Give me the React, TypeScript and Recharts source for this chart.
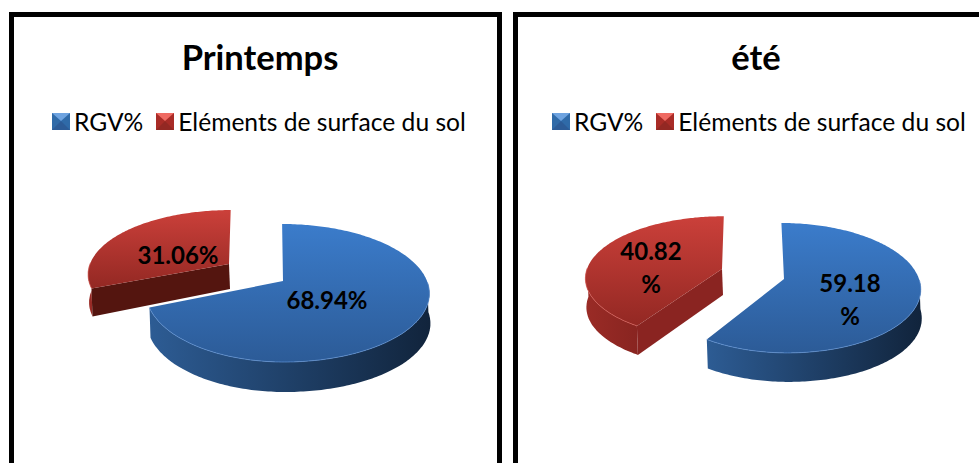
import { Legend, Pie, PieChart } from "recharts"

const names = ["RGV%", "Eléments de surface du sol"]
const printempsValues = [68.94, 31.06]
const eteValues = [59.18, 40.82]

const blue = { id: "b", light: "#3b7ccb", dark: "#2c5b97", wallA: "#2d5c94", wallB: "#11243c", cut: "#1b3658", rim: "#5f93d6", iconTop: "#6ea3e0", iconSide: "#2f6aa8" }
const red = { id: "r", light: "#cb403a", dark: "#932823", wallA: "#9a2b26", wallB: "#6c1a17", cut: "#8a2421", rim: "#d9605a", iconTop: "#ef6a62", iconSide: "#a92c27" }
const palette = [blue, red]

// how each slice is foreshortened: k = perspective, s = height, left/right = half widths
type Geo = { dx: number; dy: number; k: number; s: number; left: number; right: number; lean: number; depth: number; cut?: string; labelX: number; labelY: number; wrap?: boolean }

const printempsGeo: Geo[] = [
  { dx: 0, dy: 0, k: 0.174, s: 66.9, left: 135, right: 144, lean: -1, depth: 30, labelX: 327, labelY: 301 },
  { dx: -54, dy: -17, k: 0.15, s: 62, left: 139, right: 139, lean: 2, depth: 28, cut: "#54150f", labelX: 178, labelY: 256 },
]
const eteGeo: Geo[] = [
  { dx: 0, dy: 0, k: 0.138, s: 63.7, left: 130, right: 135, lean: -3, depth: 29, labelX: 345, labelY: 284, wrap: true },
  { dx: -62, dy: -10, k: 0.138, s: 60, left: 135, right: 135, lean: 2, depth: 29, labelX: 146, labelY: 252, wrap: true },
]

const font = "Lato, Carlito, sans-serif"

function project(g: Geo, cx: number, cy: number, deg: number) {
  // deg is the library's angle: 90 is up, going clockwise as it falls
  const rad = (deg * Math.PI) / 180
  const u = Math.cos(rad)
  const v = Math.sin(rad)
  const w = 1 + g.k * v
  const half = u < 0 ? g.left : g.right
  return { x: cx + g.dx + (half * u) / w + (g.lean * v) / w, y: cy + g.dy - (g.s * v) / w }
}

const toPath = (pts: { x: number; y: number }[]) =>
  pts.map((p, i) => `${i ? "L" : "M"}${p.x.toFixed(1)} ${p.y.toFixed(1)}`).join(" ")

function makeShape(geo: Geo[], prefix: string) {
  return function SliceShape(props: any) {
    const { cx, cy, startAngle, endAngle, name } = props
    const idx = names.indexOf(name)
    const g = geo[idx]
    const c = palette[idx]
    const hi = Math.max(startAngle, endAngle)
    const lo = Math.min(startAngle, endAngle)
    const arc: { x: number; y: number }[] = []
    for (let a = hi; a >= lo; a -= 1) arc.push(project(g, cx, cy, a))
    arc.push(project(g, cx, cy, lo))
    const apex = { x: cx + g.dx, y: cy + g.dy }
    const down = (p: { x: number; y: number }, extra = g.depth) => ({ x: p.x + 1, y: p.y + extra })

    const front = [] as { x: number; y: number }[]
    for (let a = hi; a >= lo; a -= 1) {
      const norm = ((a % 360) + 360) % 360
      if (norm >= 178 && norm <= 362) front.push(project(g, cx, cy, a))
    }
    const wall = front.length ? toPath([...front, ...[...front].reverse().map((p) => down(p))]) + " Z" : ""
    // only the second slice shows its cut side, the first one hides it
    const corner = project(g, cx, cy, hi)
    const cutPts = [corner, apex, down(apex, g.depth - 3), down(corner)]
    const id = `${prefix}${c.id}`
    const minX = Math.min(...arc.map((p) => p.x))
    const maxX = Math.max(...arc.map((p) => p.x))
    const minY = Math.min(...arc.map((p) => p.y))
    const maxY = Math.max(...arc.map((p) => p.y), apex.y)

    return (
      <g>
        <defs>
          <linearGradient id={`${id}top`} gradientUnits="userSpaceOnUse" x1={0} y1={minY} x2={0} y2={maxY}>
            <stop offset="0%" stopColor={c.light} />
            <stop offset="100%" stopColor={c.dark} />
          </linearGradient>
          <linearGradient id={`${id}wall`} gradientUnits="userSpaceOnUse" x1={minX} y1={0} x2={maxX} y2={0}>
            <stop offset="0%" stopColor={c.wallA} />
            <stop offset="100%" stopColor={c.wallB} />
          </linearGradient>
        </defs>
        {wall && <path d={wall} fill={`url(#${id}wall)`} />}
        {idx === 1 && <path d={toPath(cutPts) + " Z"} fill={g.cut ?? c.cut} />}
        <path d={toPath([apex, ...arc]) + " Z"} fill={`url(#${id}top)`} />
        {front.length > 0 && <path d={toPath(front)} fill="none" stroke={c.rim} strokeWidth={1} opacity={0.7} />}
      </g>
    )
  }
}

function SliceLabel(geo: Geo[]) {
  return function Label(props: any) {
    const g = geo[names.indexOf(props.name)]
    const text = props.value.toFixed(2)
    const common = { textAnchor: "middle" as const, fontFamily: font, fontWeight: 700, fontSize: 24, fill: "#000" }
    if (g.wrap) {
      return (
        <text x={g.labelX} y={g.labelY + 8} {...common}>
          <tspan x={g.labelX}>{text}</tspan>
          <tspan x={g.labelX} dy={33}>%</tspan>
        </text>
      )
    }
    return (
      <text x={g.labelX} y={g.labelY + 8} {...common}>
        {text}%
      </text>
    )
  }
}

function LegendRow() {
  return (
    <div style={{ display: "flex", alignItems: "center", fontFamily: font, fontSize: 24.6, color: "#000", whiteSpace: "nowrap" }}>
      {names.map((n, i) => (
        <span key={n} style={{ display: "flex", alignItems: "center", marginRight: i === 0 ? 13 : 0 }}>
          <svg width={18} height={17} style={{ marginRight: 4 }}>
            <rect width={18} height={17} fill={palette[i].iconSide} />
            <path d="M0 0 L18 0 L9 8 Z" fill={palette[i].iconTop} />
            <path d="M0 17 L18 17 L9 8 Z" fill={palette[i].dark} />
          </svg>
          {n}
        </span>
      ))}
    </div>
  )
}

type PanelProps = { title: string; values: number[]; geo: Geo[]; left: number; width: number; cx: number; cy: number; titleX: number; legendLeft: number; prefix: string }

function SeasonPanel(props: PanelProps) {
  const { title, values, geo, left, width, cx, cy, titleX, legendLeft, prefix } = props
  // the second slice is painted first so the first one sits on top of it
  const table = [1, 0].map((i) => ({ name: names[i], value: values[i], fill: palette[i].dark }))
  const start = 90 + 3.6 * values[1]
  const Shape = makeShape(geo, prefix)

  return (
    <div style={{ position: "absolute", left, top: 0, width, height: 463 }}>
      <PieChart width={width} height={463} margin={{ top: 0, right: 0, bottom: 0, left: 0 }}>
        <text x={titleX} y={70} textAnchor="middle" fontFamily={font} fontWeight={700} fontSize={34.5} fill="#000">
          {title}
        </text>
        <Legend content={<LegendRow />} wrapperStyle={{ position: "absolute", left: legendLeft, top: 107, width: "auto" }} />
        <Pie
          data={table}
          dataKey="value"
          nameKey="name"
          cx={cx}
          cy={cy}
          outerRadius={100}
          startAngle={start}
          endAngle={start - 360}
          stroke="none"
          shape={Shape}
          label={SliceLabel(geo)}
          labelLine={false}
          isAnimationActive={false}
        />
      </PieChart>
    </div>
  )
}

export default function App() {
  return (
    <div style={{ position: "absolute", left: 0, top: 0, width: 979, height: 463, overflow: "hidden", background: "#fff" }}>
      <div style={{ position: "absolute", left: 9, top: 12, width: 483, height: 480, border: "5px solid #000" }} />
      <div style={{ position: "absolute", left: 513, top: 12, width: 480, height: 480, border: "5px solid #000" }} />
      <SeasonPanel title="Printemps" values={printempsValues} geo={printempsGeo} left={0} width={505} cx={283} cy={281} titleX={260} legendLeft={52} prefix="p" />
      <SeasonPanel title="été" values={eteValues} geo={eteGeo} left={505} width={474} cx={279} cy={279} titleX={251} legendLeft={47} prefix="e" />
    </div>
  )
}
